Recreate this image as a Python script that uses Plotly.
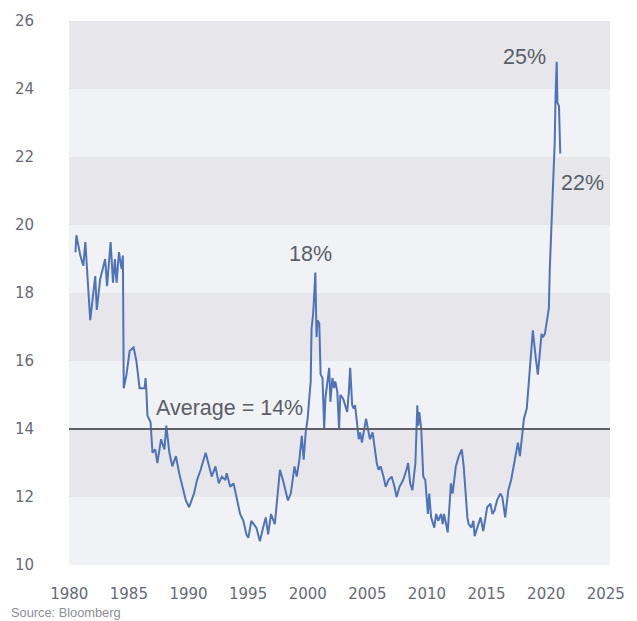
import plotly.graph_objects as go

years = [1980.52, 1980.60, 1980.93, 1981.18, 1981.35, 1981.49, 1981.76, 1982.18, 1982.31, 1982.59,
         1983.01, 1983.17, 1983.47, 1983.67, 1983.83, 1983.97, 1984.17, 1984.39, 1984.50, 1984.57,
         1984.80, 1985.07, 1985.40, 1985.63, 1985.90, 1986.32, 1986.40, 1986.46, 1986.56, 1986.82,
         1986.98, 1987.21, 1987.39, 1987.70, 1987.98, 1988.14, 1988.40, 1988.64, 1988.95, 1989.22,
         1989.47, 1989.78, 1990.05, 1990.46, 1990.72, 1991.02, 1991.44, 1991.71, 1991.95, 1992.26,
         1992.54, 1992.79, 1993.09, 1993.20, 1993.50, 1993.78, 1994.03, 1994.33, 1994.60, 1994.86,
         1995.02, 1995.27, 1995.69, 1995.99, 1996.26, 1996.48, 1996.68, 1996.92, 1997.24, 1997.51,
         1997.67, 1997.92, 1998.17, 1998.34, 1998.58, 1998.89, 1999.08, 1999.30, 1999.50, 1999.66,
         1999.83, 1999.99, 2000.25, 2000.32, 2000.46, 2000.64, 2000.74, 2000.82, 2000.97, 2001.08,
         2001.24, 2001.38, 2001.48, 2001.65, 2001.80, 2001.90, 2002.07, 2002.21, 2002.31, 2002.48,
         2002.63, 2002.73, 2002.96, 2003.14, 2003.31, 2003.45, 2003.56, 2003.73, 2003.86, 2003.97,
         2004.14, 2004.28, 2004.39, 2004.55, 2004.69, 2004.89, 2005.05, 2005.22, 2005.44, 2005.61,
         2005.79, 2005.94, 2006.12, 2006.35, 2006.54, 2006.77, 2007.04, 2007.28, 2007.45, 2007.70,
         2008.00, 2008.28, 2008.42, 2008.59, 2008.78, 2009.03, 2009.19, 2009.27, 2009.36, 2009.52,
         2009.69, 2009.86, 2010.08, 2010.19, 2010.35, 2010.61, 2010.77, 2010.94, 2011.18, 2011.32,
         2011.43, 2011.74, 2012.01, 2012.15, 2012.42, 2012.67, 2012.92, 2013.08, 2013.39, 2013.50,
         2013.73, 2013.89, 2014.00, 2014.22, 2014.50, 2014.72, 2015.05, 2015.32, 2015.49, 2015.66,
         2015.88, 2016.15, 2016.32, 2016.56, 2016.82, 2017.06, 2017.23, 2017.54, 2017.63, 2017.80,
         2017.97, 2018.13, 2018.37, 2018.47, 2018.64, 2018.88, 2019.12, 2019.30, 2019.61, 2019.72,
         2019.89, 2020.02, 2020.22, 2020.30, 2020.44, 2020.55, 2020.71, 2020.79, 2020.88, 2020.94,
         2021.07, 2021.18]

values = [19.2, 19.7, 19.1, 18.8, 19.5, 18.8, 17.2, 18.5, 17.5, 18.4,
          19.0, 18.2, 19.5, 18.3, 19.0, 18.3, 19.2, 18.7, 19.1, 15.2,
          15.6, 16.3, 16.4, 16.0, 15.2, 15.2, 15.5, 15.2, 14.4, 14.2,
          13.3, 13.4, 13.0, 13.7, 13.4, 14.1, 13.3, 12.9, 13.2, 12.7,
          12.3, 11.9, 11.7, 12.1, 12.5, 12.8, 13.3, 12.9, 12.6, 12.9,
          12.4, 12.6, 12.5, 12.7, 12.3, 12.4, 12.0, 11.5, 11.3, 10.9,
          10.8, 11.3, 11.1, 10.7, 11.1, 11.4, 10.9, 11.5, 11.2, 12.2,
          12.8, 12.5, 12.1, 11.9, 12.1, 12.9, 12.6, 13.1, 13.8, 13.1,
          13.9, 14.3, 15.4, 16.95, 17.4, 18.6, 16.7, 17.2, 17.1, 15.6,
          15.5, 14.0, 14.9, 15.3, 15.8, 14.8, 15.5, 15.2, 15.4, 15.1,
          14.0, 15.0, 14.9, 14.7, 14.5, 15.1, 15.8, 14.7, 14.6, 14.7,
          14.1, 13.7, 13.9, 13.6, 13.9, 14.3, 14.0, 13.7, 13.9, 13.4,
          13.0, 12.8, 12.9, 12.6, 12.3, 12.5, 12.6, 12.3, 12.0, 12.3,
          12.5, 12.8, 13.0, 12.4, 12.2, 13.0, 14.7, 14.1, 14.5, 14.0,
          12.6, 12.5, 11.5, 12.1, 11.4, 11.1, 11.5, 11.3, 11.5, 11.2,
          11.5, 10.96, 12.4, 12.1, 12.9, 13.2, 13.4, 12.9, 11.4, 11.2,
          11.1, 11.3, 10.85, 11.1, 11.4, 11.0, 11.7, 11.8, 11.5, 11.6,
          11.9, 12.1, 12.0, 11.4, 12.2, 12.5, 12.8, 13.4, 13.6, 13.2,
          13.9, 14.3, 14.6, 15.1, 15.9, 16.9, 16.1, 15.6, 16.8, 16.7,
          16.8, 17.1, 17.55, 18.7, 19.9, 21.2, 22.4, 23.9, 24.8, 23.6,
          23.5, 22.1]

average_value = 14
x_ticks = [1980, 1985, 1990, 1995, 2000, 2005, 2010, 2015, 2020, 2025]
y_ticks = [10, 12, 14, 16, 18, 20, 22, 24, 26]
band_edges = [10, 12, 14, 16, 18, 20, 22, 24, 26]

callouts = [
    {"text": "25%", "x": 2018.18, "y": 24.93},
    {"text": "22%", "x": 2023.07, "y": 21.24},
    {"text": "18%", "x": 2000.20, "y": 19.14},
    {"text": "Average = 14%", "x": 1993.40, "y": 14.61},
]

LABEL_FONT = "'Liberation Sans', Arial, sans-serif"
TICK_FONT = "'DejaVu Sans', sans-serif"
TEXT_COLOR = "#5a5e69"
TICK_COLOR = "#676a74"

fig = go.Figure()

shapes = []
for i in range(len(band_edges) - 1):
    color = "#f1f2f5" if i % 2 == 0 else "#e7e7eb"
    shapes.append(dict(type="rect", xref="paper", yref="y", x0=0, x1=1,
                       y0=band_edges[i], y1=band_edges[i + 1],
                       fillcolor=color, line=dict(width=0), layer="below"))
shapes.append(dict(type="line", xref="paper", yref="y", x0=0, x1=1,
                   y0=average_value, y1=average_value,
                   line=dict(color="#5d6069", width=2), layer="above"))

fig.add_trace(go.Scatter(x=years, y=values, mode="lines",
                         line=dict(color="#4f73b8", width=2),
                         hoverinfo="skip", showlegend=False))

annotations = []
for c in callouts:
    annotations.append(dict(x=c["x"], y=c["y"], xref="x", yref="y", text=c["text"],
                            showarrow=False,
                            font=dict(family=LABEL_FONT, size=21.5, color=TEXT_COLOR)))
annotations.append(dict(x=-0.1115, y=-0.105, xref="paper", yref="paper",
                        xanchor="left", yanchor="bottom",
                        text="Source: Bloomberg", showarrow=False,
                        font=dict(family=LABEL_FONT, size=12.8, color="#8a8d95")))

fig.update_layout(
    width=637, height=621,
    margin=dict(l=69, r=21, t=17, b=56),
    paper_bgcolor="white", plot_bgcolor="white",
    shapes=shapes, annotations=annotations,
    showlegend=False,
    xaxis=dict(range=[1979.98, 2025.35], tickvals=x_ticks, ticktext=[str(t) for t in x_ticks],
               showgrid=False, zeroline=False, showline=False, ticks="",
               ticklabelstandoff=18,
               tickfont=dict(family=TICK_FONT, size=15, color=TICK_COLOR)),
    yaxis=dict(range=[10, 26], tickvals=y_ticks, ticktext=[str(t) for t in y_ticks],
               showgrid=False, zeroline=False, showline=False, ticks="",
               ticklabelstandoff=34,
               tickfont=dict(family=TICK_FONT, size=15, color=TICK_COLOR)),
)

fig.write_html("out.html", config={"displayModeBar": False},
               post_script="document.body.style.margin='0';document.body.style.overflow='hidden';")
